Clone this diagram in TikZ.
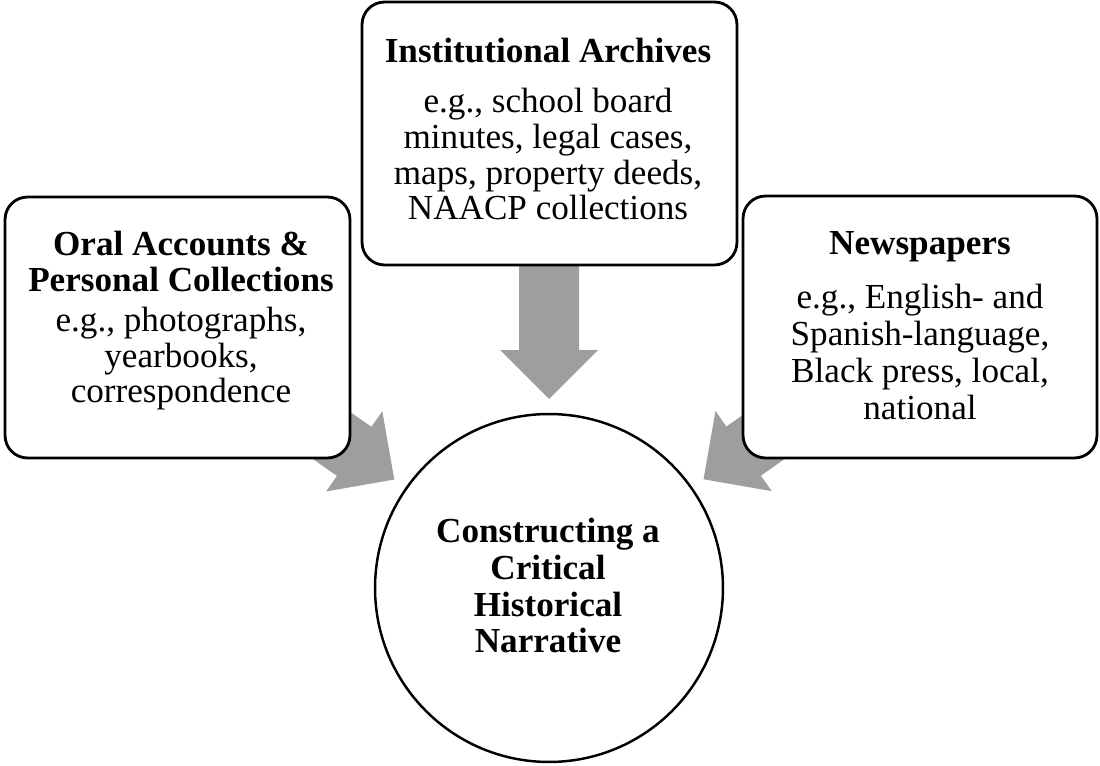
\documentclass[tikz,border=0pt]{standalone}
\usepackage{fontspec}
\setmainfont{Liberation Serif}
\usetikzlibrary{calc}
\pgfdeclarelayer{background}
\pgfsetlayers{background,main}
\definecolor{arrowgray}{RGB}{158,158,158}
\tikzset{
  srcbox/.style={draw=black, line width=1.6pt, rounded corners=0.45cm, fill=white, inner sep=0pt},
  hub/.style={circle, draw=black, line width=1.4pt, fill=white, minimum size=6.96cm, inner sep=0pt},
  headtxt/.style={anchor=base, inner sep=0pt, align=center, font=\fontsize{20}{21}\selectfont\bfseries},
  bodytxt/.style={anchor=base, inner sep=0pt, align=center, font=\fontsize{20}{20.4}\selectfont},
  blockarrow/.style={fill=arrowgray},
}
\newcommand\flowarrow[2]{%
  \begin{scope}[shift={(#1)}, rotate=#2]
    \fill[blockarrow] (0,0) -- (-49,49) -- (-49,30) -- (-150,30) -- (-150,-30) -- (-49,-30) -- (-49,-49) -- cycle;
  \end{scope}}
\begin{document}
\begin{tikzpicture}[x=0.02cm, y=-0.02cm]
\useasboundingbox (0,0) rectangle (1100,766);
\node[srcbox, minimum width=6.9cm, minimum height=5.22cm] (L) at (177.5,327.5) {};
\node[srcbox, minimum width=7.5cm, minimum height=5.26cm] (M) at (549.5,133.5) {};
\node[srcbox, minimum width=7.08cm, minimum height=5.24cm] (R) at (920,327) {};
\node[hub] (C) at (549,588) {};
% anchor=base of a multi-line node = baseline of its last line
\node[headtxt] (Lh) at (181,292) {Oral Accounts \&\\Personal Collections};
\node[bodytxt] (Lb) at (181,403) {e.g., photographs,\\yearbooks,\\correspondence};
\node[headtxt] (Mh) at (548,63) {Institutional Archives};
\node[bodytxt] (Mb) at (548,220) {e.g., school board\\minutes, legal cases,\\maps, property deeds,\\NAACP collections};
\node[headtxt] (Rh) at (920,255) {Newspapers};
\node[bodytxt, font=\fontsize{20}{21.2}\selectfont] (Rb) at (920,420) {e.g., English- and\\Spanish-language,\\Black press, local,\\national};
\node[headtxt] (Ct) at (548,653) {Constructing a\\Critical\\Historical\\Narrative};
\begin{pgfonlayer}{background}
\coordinate (tL) at ($(C.center)!3.78cm!(L.center)$);
\coordinate (tM) at ($(C.center)!3.78cm!(M.center)$);
\coordinate (tR) at ($(C.center)!3.78cm!(R.center)$);
\flowarrow{tL}{-35.04}
\flowarrow{tM}{-90}
\flowarrow{tR}{-144.9}
\end{pgfonlayer}
\end{tikzpicture}
\end{document}
